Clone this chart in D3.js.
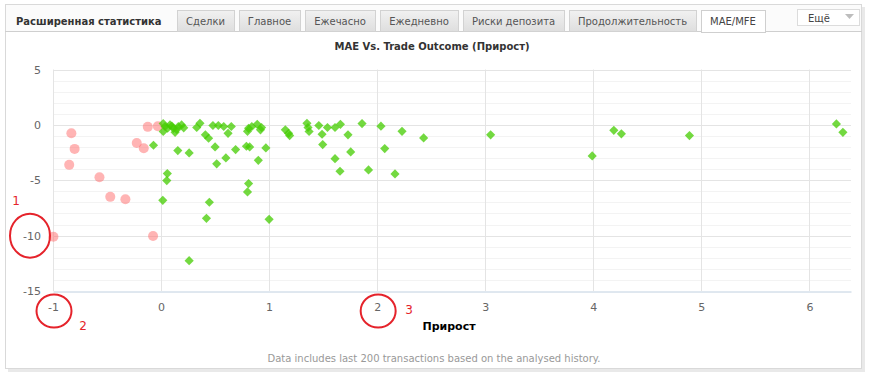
<!DOCTYPE html>
<html>
<head>
<meta charset="utf-8">
<script src="https://cdn.jsdelivr.net/npm/d3@7"></script>
<style>
    body { margin: 0; background: #fff; }
    svg { display: block; }
    text { font-family: "DejaVu Sans", Verdana, sans-serif; }
</style>
</head>
<body>
<div id="chart"></div>
<script>
var panelTitle = "Расширенная статистика";
var tabs = ["Сделки", "Главное", "Ежечасно", "Ежедневно", "Риски депозита", "Продолжительность", "MAE/MFE"];
var activeTab = "MAE/MFE";
var moreLabel = "Ещё";
var chartTitle = "MAE Vs. Trade Outcome (Прирост)";
var xTitle = "Прирост";
var footNote = "Data includes last 200 transactions based on the analysed history.";
var xTicks = [-1, 0, 1, 2, 3, 4, 5, 6];
var yTicks = [5, 0, -5, -10, -15];

// [outcome, MAE] for losing trades
var lossTrades = [
    [-0.83, -0.76], [-0.80, -2.17], [-0.85, -3.61], [-0.57, -4.73],
    [-0.47, -6.5], [-0.33, -6.72], [-0.996, -10.1], [-0.074, -10.03],
    [-0.225, -1.63], [-0.16, -2.11], [-0.123, -0.18], [-0.03, -0.12]
];

// [outcome, MAE] for winning trades
var winTrades = [
    [0.037, -0.15], [0.083, 0.0], [0.114, -0.31], [0.16, -0.15], [0.19, 0.0],
    [0.13, -0.67], [0.02, -0.6], [0.36, 0.14], [0.33, -0.24], [0.41, -0.9],
    [0.44, -1.21], [0.48, -0.06], [0.53, -0.06], [0.58, -0.15], [0.65, -0.15],
    [0.62, -0.76], [0.81, -0.31], [0.84, -0.15], [0.89, 0.05], [0.93, -0.24],
    [0.92, -0.45], [1.15, -0.45], [1.18, -0.76], [1.19, -0.97], [1.35, 0.14],
    [1.36, -0.24], [1.37, -0.6], [1.46, -0.06], [1.49, -0.85], [1.54, -0.24],
    [1.61, -0.24], [1.66, 0.05], [1.73, -0.9], [1.755, -2.44], [1.86, 0.12],
    [1.92, -4.07], [2.035, -0.12], [2.07, -2.14], [2.165, -4.43], [2.23, -0.58],
    [2.43, -1.18], [3.05, -0.9], [3.99, -2.8], [4.19, -0.49], [4.26, -0.81],
    [4.89, -0.97], [6.25, 0.09], [6.31, -0.67], [1.496, -1.78], [1.61, -3.05],
    [1.656, -4.19], [-0.07, -1.84], [0.155, -2.32], [0.26, -2.53], [0.058, -4.4],
    [0.053, -5.03], [0.50, -1.99], [0.515, -3.52], [0.60, -2.98], [0.69, -2.23],
    [0.79, -1.93], [0.82, -1.99], [0.97, -2.08], [0.90, -3.2], [0.81, -5.3],
    [0.80, -6.05], [0.016, -6.81], [0.447, -6.99], [0.42, -8.44], [1.0, -8.53],
    [0.26, -12.26], [0.02, 0.12], [0.21, -0.27], [0.145, -0.42], [0.06, -0.3],
    [0.10, -0.1], [0.80, -0.58]
];

// hand drawn marks round some tick labels: [axis, tick value, mark label]
var marks = [["y", -10, "1"], ["x", -1, "2"], ["x", 2, "3"]];

var W = 871, H = 376;
var red = "#e5232b";

var svg = d3.select("#chart").append("svg")
    .attr("width", W)
    .attr("height", H);

// panel
svg.append("rect")
    .attr("x", 8).attr("y", 7)
    .attr("width", 857).attr("height", 365)
    .attr("fill", "#e9e9e9");
svg.append("rect")
    .attr("x", 5.5).attr("y", 4.5)
    .attr("width", 856).attr("height", 364)
    .attr("fill", "#fff")
    .attr("stroke", "#d9d9d9");
svg.append("rect")
    .attr("x", 6).attr("y", 5)
    .attr("width", 855).attr("height", 27)
    .attr("fill", "#fbfbfb");
svg.append("line")
    .attr("x1", 5).attr("x2", 862)
    .attr("y1", 31.5).attr("y2", 31.5)
    .attr("stroke", "#cfcfcf");

svg.append("text")
    .attr("x", 16).attr("y", 24.5)
    .attr("font-size", "10px")
    .attr("font-weight", "bold")
    .attr("fill", "#333")
    .text(panelTitle);

var defs = svg.append("defs");
var grad = defs.append("linearGradient")
    .attr("id", "tabGrad")
    .attr("x1", 0).attr("x2", 0).attr("y1", 0).attr("y2", 1);
grad.append("stop").attr("offset", "0%").attr("stop-color", "#f1f1f1");
grad.append("stop").attr("offset", "100%").attr("stop-color", "#dedede");

// tabs, laid out from their text widths
var tabX = 177;
tabs.forEach(function (name) {
    var g = svg.append("g");
    var active = name === activeTab;
    var r = g.append("rect")
        .attr("y", 10.5)
        .attr("height", active ? 22 : 21)
        .attr("fill", active ? "#fff" : "url(#tabGrad)")
        .attr("stroke", active ? "#cfcfcf" : "#d2d2d2");
    var t = g.append("text")
        .attr("y", 25)
        .attr("font-size", "10px")
        .attr("fill", active ? "#444" : "#555")
        .attr("text-anchor", "middle")
        .text(name);
    var tw = t.node().getComputedTextLength();
    var bw = Math.round(tw + 18);
    r.attr("x", tabX + 0.5).attr("width", bw);
    t.attr("x", tabX + bw / 2);
    if (active) {
        g.append("line")
            .attr("x1", tabX + 1).attr("x2", tabX + bw)
            .attr("y1", 31.5).attr("y2", 31.5)
            .attr("stroke", "#fff");
    }
    tabX += bw + 5;
});

// "more" dropdown
svg.append("rect")
    .attr("x", 797.5).attr("y", 9.5)
    .attr("width", 62).attr("height", 16)
    .attr("fill", "#fff")
    .attr("stroke", "#dcdcdc");
svg.append("text")
    .attr("x", 819).attr("y", 21.5)
    .attr("font-size", "10px")
    .attr("fill", "#444")
    .attr("text-anchor", "middle")
    .text(moreLabel);
svg.append("path")
    .attr("d", "M845,14L854,14L849.5,19Z")
    .attr("fill", "#bdbdbd");

// chart
var x = d3.scaleLinear().domain([-1, 6.385]).range([53, 851]);
var y = d3.scaleLinear().domain([-15, 5]).range([291, 69.5]);

svg.append("text")
    .attr("x", 432).attr("y", 50)
    .attr("font-size", "10px")
    .attr("font-weight", "bold")
    .attr("fill", "#333")
    .attr("text-anchor", "middle")
    .text(chartTitle);

var grid = svg.append("g");
grid.selectAll(".minor")
    .data(y.ticks(20).filter(function (d) { return d % 5 !== 0; }))
    .enter().append("line")
    .attr("x1", x.range()[0]).attr("x2", x.range()[1])
    .attr("y1", function (d) { return Math.round(y(d)) + 0.5; })
    .attr("y2", function (d) { return Math.round(y(d)) + 0.5; })
    .attr("stroke", "#f3f3f3");
grid.selectAll(".majorY")
    .data(yTicks.filter(function (d) { return d !== -15; }))
    .enter().append("line")
    .attr("x1", x.range()[0]).attr("x2", x.range()[1])
    .attr("y1", function (d) { return Math.round(y(d)) + 0.5; })
    .attr("y2", function (d) { return Math.round(y(d)) + 0.5; })
    .attr("stroke", "#e4e4e4");
grid.selectAll(".majorX")
    .data(xTicks)
    .enter().append("line")
    .attr("x1", function (d) { return Math.round(x(d)) + 0.5; })
    .attr("x2", function (d) { return Math.round(x(d)) + 0.5; })
    .attr("y1", y(5)).attr("y2", y(-15))
    .attr("stroke", "#e4e4e4");

var plain = function (d) { return String(d); };

var xAxis = svg.append("g")
    .attr("transform", "translate(0," + (Math.round(y(-15)) + 0.5) + ")")
    .call(d3.axisBottom(x).tickValues(xTicks).tickSize(0).tickPadding(12).tickFormat(plain));
xAxis.select(".domain").attr("stroke", "#c0d0e0");
xAxis.selectAll("text")
    .attr("font-size", "11px")
    .attr("fill", "#666")
    .attr("font-family", "DejaVu Sans, sans-serif");

var yAxis = svg.append("g")
    .attr("transform", "translate(" + x.range()[0] + ",0)")
    .call(d3.axisLeft(y).tickValues(yTicks).tickSize(0).tickPadding(12).tickFormat(plain));
yAxis.select(".domain").remove();
yAxis.selectAll("text")
    .attr("font-size", "11px")
    .attr("fill", "#666")
    .attr("font-family", "DejaVu Sans, sans-serif");

svg.append("text")
    .attr("x", 449).attr("y", 330)
    .attr("font-size", "11px")
    .attr("font-weight", "bold")
    .attr("fill", "#000")
    .attr("text-anchor", "middle")
    .text(xTitle);

// points
svg.append("g").selectAll("circle")
    .data(lossTrades)
    .enter().append("circle")
    .attr("cx", function (d) { return x(d[0]); })
    .attr("cy", function (d) { return y(d[1]); })
    .attr("r", 5)
    .attr("fill", "#ff6a6a")
    .attr("fill-opacity", 0.5);

var diamond = d3.symbol().type(d3.symbolSquare).size(42);
svg.append("g").selectAll("path")
    .data(winTrades)
    .enter().append("path")
    .attr("d", diamond)
    .attr("transform", function (d) {
        return "translate(" + x(d[0]) + "," + y(d[1]) + ") rotate(45)";
    })
    .attr("fill", "#44cc00")
    .attr("fill-opacity", 0.75);

svg.append("text")
    .attr("x", 434).attr("y", 362)
    .attr("font-size", "10px")
    .attr("fill", "#999")
    .attr("text-anchor", "middle")
    .text(footNote);

// red hand drawn marks
marks.forEach(function (m) {
    var cx, cy, rx, ry, lx, ly;
    if (m[0] === "y") {
        cx = 30; cy = y(m[1]); rx = 20; ry = 22;
        lx = cx - 14; ly = cy - 31;
    } else {
        cx = x(m[1]) + 1; cy = 311; rx = 17.5; ry = 16.5;
        lx = cx + (m[1] < 0 ? 29 : 31); ly = m[1] < 0 ? cy + 19 : cy + 3;
    }
    svg.append("ellipse")
        .attr("cx", cx).attr("cy", cy)
        .attr("rx", rx).attr("ry", ry)
        .attr("fill", "none")
        .attr("stroke", red)
        .attr("stroke-width", 2);
    svg.append("text")
        .attr("x", lx).attr("y", ly)
        .attr("font-size", "12px")
        .attr("fill", red)
        .attr("text-anchor", "middle")
        .text(m[2]);
});
</script>
</body>
</html>
